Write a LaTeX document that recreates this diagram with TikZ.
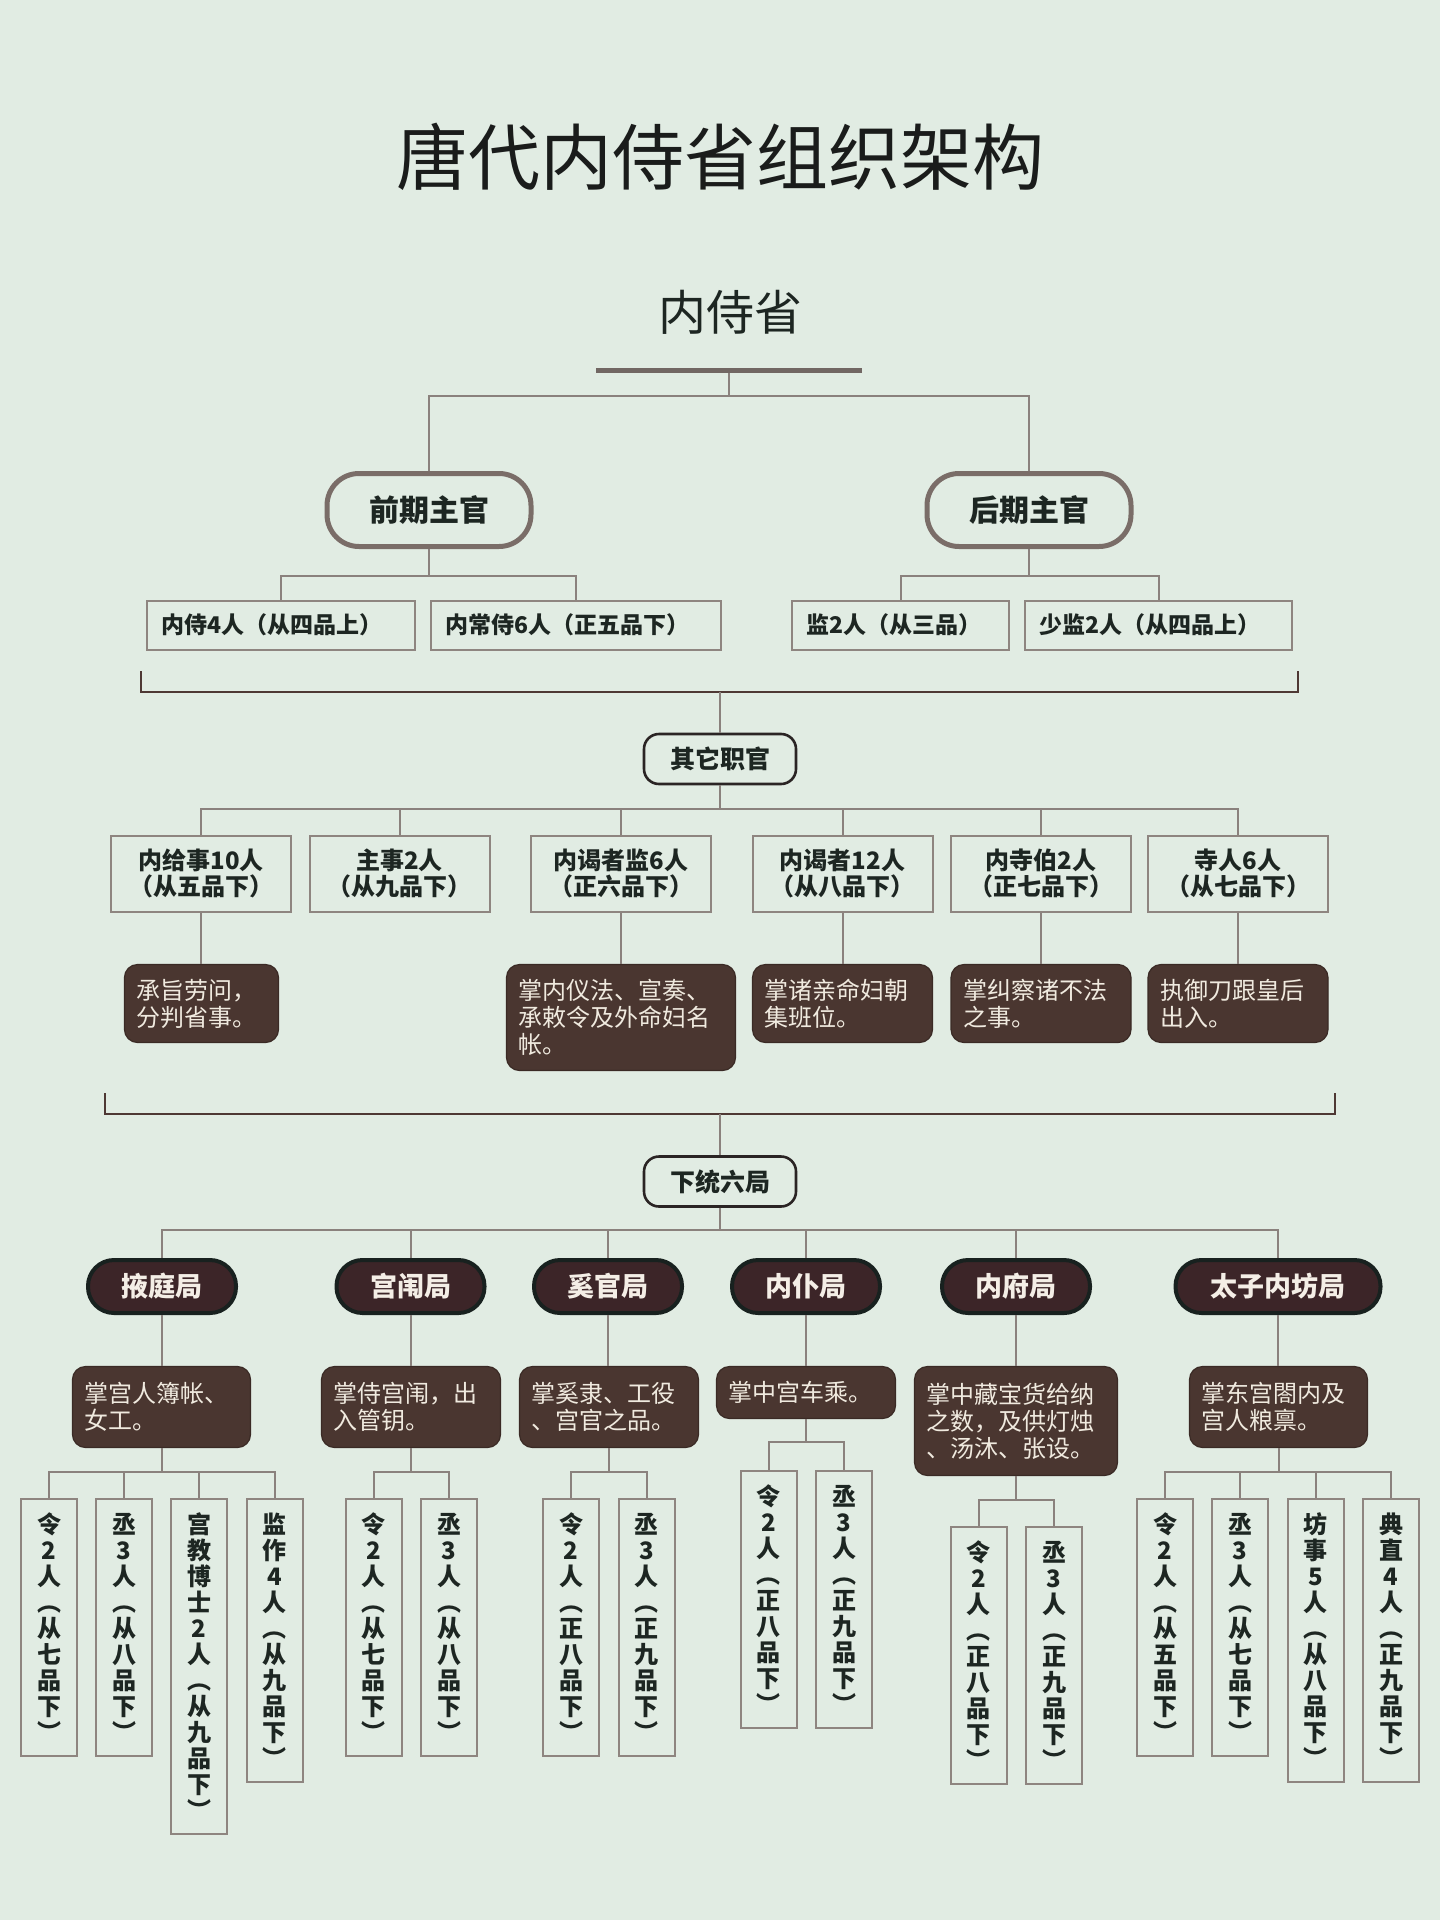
\documentclass[tikz,border=0pt]{standalone}
\usepackage{fontspec}
\setmainfont{Noto Sans CJK SC}
\usetikzlibrary{calc}
\definecolor{bg}{HTML}{E1ECE3}
\definecolor{txt}{HTML}{1D2622}
\definecolor{titlec}{HTML}{1A1C1B}
\definecolor{linec}{HTML}{8A817D}
\definecolor{boxc}{HTML}{8E8580}
\definecolor{pillc}{HTML}{7A6D68}
\definecolor{barc}{HTML}{716763}
\definecolor{hubc}{HTML}{2A2424}
\definecolor{brc}{HTML}{4E3834}
\definecolor{descf}{HTML}{4A3630}
\definecolor{descb}{HTML}{3A2A25}
\definecolor{desct}{HTML}{F0EADF}
\definecolor{buf}{HTML}{3C2528}
\definecolor{bub}{HTML}{18211F}
\definecolor{but}{HTML}{F4EEE6}
\newcommand\zlp{\hspace*{-0.5em}（}
\newcommand\zrp{）\hspace*{-0.5em}}
\begin{document}
\begin{tikzpicture}[x=0.5pt,y=-0.5pt,
  conn/.style={draw=linec, line width=1pt},
  bracketline/.style={draw=brc, line width=1.3pt},
  pill/.style={draw=pillc, line width=2.5pt, fill=bg, rounded corners=16pt, minimum width=102pt, minimum height=36.5pt, inner sep=0pt, text=txt, font=\bfseries\fontsize{15pt}{17pt}\selectfont},
  topbox/.style={draw=boxc, line width=1pt, fill=bg, minimum height=24.5pt, inner xsep=7pt, inner ysep=0pt, text width=#1, align=left, text=txt, font=\bfseries\fontsize{11.5pt}{13pt}\selectfont},
  hub/.style={draw=hubc, line width=1.3pt, fill=bg, rounded corners=7.5pt, minimum width=76pt, minimum height=25pt, inner sep=0pt, text=txt, font=\bfseries\fontsize{12.5pt}{14pt}\selectfont},
  midbox/.style={draw=boxc, line width=1pt, fill=bg, minimum width=90pt, minimum height=38pt, inner sep=0pt, align=center, text=txt, font=\bfseries\fontsize{12pt}{13pt}\selectfont},
  desc/.style={draw=descb, line width=0.6pt, fill=descf, rounded corners=6.5pt, inner xsep=6pt, inner ysep=0pt, text width=#1, align=left, text=desct, font=\fontsize{12pt}{13.5pt}\selectfont},
  bureau/.style={draw=bub, line width=2pt, fill=buf, rounded corners=13pt, minimum width=#1, minimum height=26.5pt, inner sep=0pt, text=but, font=\bfseries\fontsize{13.5pt}{15pt}\selectfont},
  vbox/.style={draw=boxc, line width=1pt, fill=bg, minimum width=28pt, minimum height=#1, inner sep=0pt, anchor=north, align=center, text=txt, font=\bfseries\fontsize{12pt}{13pt}\selectfont}
]
\fill[bg] (0,0) rectangle (1440,1920);
\useasboundingbox (0,0) rectangle (1440,1920);

% titles
\node[text=titlec, font=\fontsize{36pt}{40pt}\selectfont] (title) at (720,157) {唐代内侍省组织架构};
\node[text=txt, font=\fontsize{24pt}{28pt}\selectfont] (nss) at (730,312) {内侍省};
\node[fill=barc, minimum width=133pt, minimum height=2.5pt, inner sep=0pt] (bar) at (729,370) {};

% chief officials
\node[pill] (p1) at (429,510) {前期主官};
\node[pill] (p2) at (1029,510) {后期主官};
\draw[conn] (bar.south) -- ++(0,23) -| (p1.north);
\draw[conn] (bar.south) -- ++(0,23) -| (p2.north);

\node[topbox=120pt] (b1) at (281,625) {内侍4人（从四品上）};
\node[topbox=131pt] (b2) at (576,625) {内常侍6人（正五品下）};
\node[topbox=94.5pt] (b3) at (900.5,625) {监2人（从三品）};
\node[topbox=119.5pt] (b4) at (1158.5,625) {少监2人（从四品上）};
\draw[conn] (p1.south) -- ++(0,26.5) -| (b1.north);
\draw[conn] (p1.south) -- ++(0,26.5) -| (b2.north);
\draw[conn] (p2.south) -- ++(0,26.5) -| (b3.north);
\draw[conn] (p2.south) -- ++(0,26.5) -| (b4.north);

% bracket 1
\draw[bracketline] (141,671) -- (141,692) -- (1298,692) -- (1298,671);
\coordinate (br1) at (720,692);
\node[hub] (qt) at (720,759) {其它职官};
\draw[conn] (br1) -- (qt.north);

% other officials
\node[midbox] (r2a) at (201,873.5) {内给事10人\\\zlp{}从五品下\zrp};
\node[midbox] (r2b) at (399.5,873.5) {主事2人\\\zlp{}从九品下\zrp};
\node[midbox] (r2c) at (621,873.5) {内谒者监6人\\\zlp{}正六品下\zrp};
\node[midbox] (r2d) at (842.5,873.5) {内谒者12人\\\zlp{}从八品下\zrp};
\node[midbox] (r2e) at (1041,873.5) {内寺伯2人\\\zlp{}正七品下\zrp};
\node[midbox] (r2f) at (1238,873.5) {寺人6人\\\zlp{}从七品下\zrp};
\foreach \n in {r2a,r2b,r2c,r2d,r2e,r2f}
  \draw[conn] (qt.south) -- ++(0,24) -| (\n.north);

\node[desc=65pt, minimum height=39pt] (d2a) at (201.5,1003.5) {承旨劳问，\\分判省事。};
\node[desc=102.5pt, minimum height=53pt] (d2c) at (621,1017.5) {掌内仪法、宣奏、\\承敕令及外命妇名\\帐。};
\node[desc=78pt, minimum height=39pt] (d2d) at (842.5,1003.5) {掌诸亲命妇朝\\集班位。};
\node[desc=78pt, minimum height=39pt] (d2e) at (1041,1003.5) {掌纠察诸不法\\之事。};
\node[desc=78pt, minimum height=39pt] (d2f) at (1238,1003.5) {执御刀跟皇后\\出入。};
\draw[conn] (r2a.south) -- (r2a.south |- d2a.north);
\draw[conn] (r2c.south) -- (r2c.south |- d2c.north);
\draw[conn] (r2d.south) -- (r2d.south |- d2d.north);
\draw[conn] (r2e.south) -- (r2e.south |- d2e.north);
\draw[conn] (r2f.south) -- (r2f.south |- d2f.north);

% bracket 2
\draw[bracketline] (105,1093) -- (105,1114) -- (1335,1114) -- (1335,1093);
\coordinate (br2) at (720,1114);
\node[hub] (xt) at (720,1181.5) {下统六局};
\draw[conn] (br2) -- (xt.north);

% six bureaus
\node[bureau=74pt] (u1) at (162,1286.5) {掖庭局};
\node[bureau=74pt] (u2) at (410.5,1286.5) {宫闱局};
\node[bureau=74pt] (u3) at (608,1286.5) {奚官局};
\node[bureau=74pt] (u4) at (806,1286.5) {内仆局};
\node[bureau=74pt] (u5) at (1016,1286.5) {内府局};
\node[bureau=102.5pt] (u6) at (1278,1286.5) {太子内坊局};
\foreach \n in {u1,u2,u3,u4,u5,u6}
  \draw[conn] (xt.south) -- ++(0,22.5) -| (\n.north);

\node[desc=77pt, minimum height=40.5pt] (d3a) at (161.5,1407) {掌宫人簿帐、\\女工。};
\node[desc=77.5pt, minimum height=40.5pt] (d3b) at (411,1407) {掌侍宫闱，出\\入管钥。};
\node[desc=77.5pt, minimum height=40.5pt] (d3c) at (609,1407) {掌奚隶、工役\\、宫官之品。};
\node[desc=77.5pt, minimum height=26pt] (d3d) at (806,1392.5) {掌中宫车乘。};
\node[desc=89.5pt, minimum height=54.5pt] (d3e) at (1016,1421) {掌中藏宝货给纳\\之数，及供灯烛\\、汤沐、张设。};
\node[desc=77pt, minimum height=40.5pt] (d3f) at (1278.5,1407) {掌东宫閤内及\\宫人粮禀。};
\draw[conn] (u1.south) -- (u1.south |- d3a.north);
\draw[conn] (u2.south) -- (u2.south |- d3b.north);
\draw[conn] (u3.south) -- (u3.south |- d3c.north);
\draw[conn] (u4.south) -- (u4.south |- d3d.north);
\draw[conn] (u5.south) -- (u5.south |- d3e.north);
\draw[conn] (u6.south) -- (u6.south |- d3f.north);

% staff boxes (vertical text)
\node[vbox=128.5pt] (v1a) at (49,1498) {令\\2\\人\\︵\\从\\七\\品\\下\\︶};
\node[vbox=128.5pt] (v1b) at (124,1498) {丞\\3\\人\\︵\\从\\八\\品\\下\\︶};
\node[vbox=167.5pt] (v1c) at (199,1498) {宫\\教\\博\\士\\2\\人\\︵\\从\\九\\品\\下\\︶};
\node[vbox=141.5pt] (v1d) at (274.5,1498) {监\\作\\4\\人\\︵\\从\\九\\品\\下\\︶};
\foreach \n in {v1a,v1b,v1c,v1d}
  \draw[conn] (d3a.south) -- ++(0,23.5) -| (\n.north);

\node[vbox=128.5pt] (v2a) at (373.5,1498) {令\\2\\人\\︵\\从\\七\\品\\下\\︶};
\node[vbox=128.5pt] (v2b) at (449,1498) {丞\\3\\人\\︵\\从\\八\\品\\下\\︶};
\foreach \n in {v2a,v2b}
  \draw[conn] (d3b.south) -- ++(0,23.5) -| (\n.north);

\node[vbox=128.5pt] (v3a) at (571,1498) {令\\2\\人\\︵\\正\\八\\品\\下\\︶};
\node[vbox=128.5pt] (v3b) at (646.5,1498) {丞\\3\\人\\︵\\正\\九\\品\\下\\︶};
\foreach \n in {v3a,v3b}
  \draw[conn] (d3c.south) -- ++(0,23.5) -| (\n.north);

\node[vbox=128.5pt] (v4a) at (768.5,1470) {令\\2\\人\\︵\\正\\八\\品\\下\\︶};
\node[vbox=128.5pt] (v4b) at (844,1470) {丞\\3\\人\\︵\\正\\九\\品\\下\\︶};
\foreach \n in {v4a,v4b}
  \draw[conn] (d3d.south) -- ++(0,23) -| (\n.north);

\node[vbox=128.5pt] (v5a) at (978.5,1526) {令\\2\\人\\︵\\正\\八\\品\\下\\︶};
\node[vbox=128.5pt] (v5b) at (1054,1526) {丞\\3\\人\\︵\\正\\九\\品\\下\\︶};
\foreach \n in {v5a,v5b}
  \draw[conn] (d3e.south) -- ++(0,24) -| (\n.north);

\node[vbox=128.5pt] (v6a) at (1165,1498) {令\\2\\人\\︵\\从\\五\\品\\下\\︶};
\node[vbox=128.5pt] (v6b) at (1240,1498) {丞\\3\\人\\︵\\从\\七\\品\\下\\︶};
\node[vbox=141.5pt] (v6c) at (1315.5,1498) {坊\\事\\5\\人\\︵\\从\\八\\品\\下\\︶};
\node[vbox=141.5pt] (v6d) at (1391,1498) {典\\直\\4\\人\\︵\\正\\九\\品\\下\\︶};
\foreach \n in {v6a,v6b,v6c,v6d}
  \draw[conn] (d3f.south) -- ++(0,23.5) -| (\n.north);
\end{tikzpicture}
\end{document}
